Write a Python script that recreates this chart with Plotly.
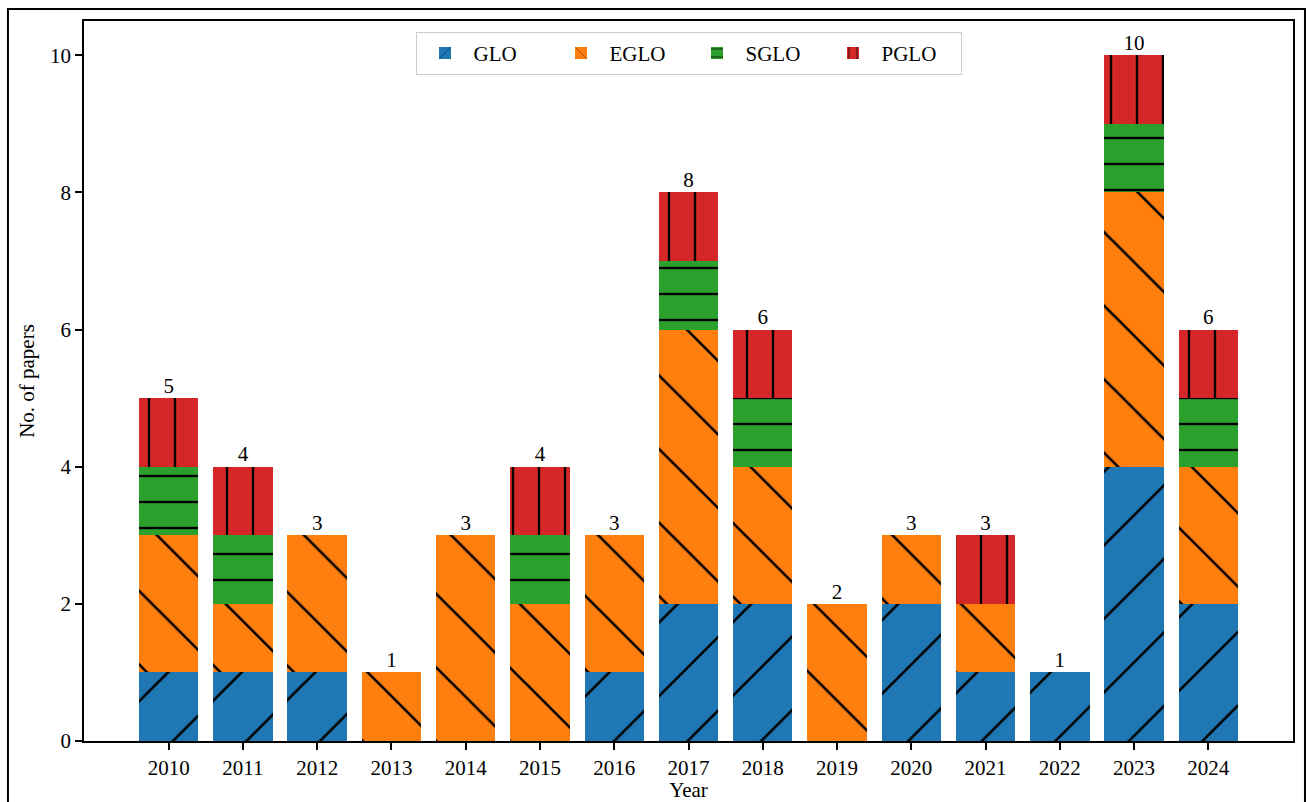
import plotly.graph_objects as go

years = ["2010", "2011", "2012", "2013", "2014", "2015", "2016", "2017",
         "2018", "2019", "2020", "2021", "2022", "2023", "2024"]
glo = [1, 1, 1, 0, 0, 0, 1, 2, 2, 0, 2, 1, 1, 4, 2]
eglo = [2, 1, 2, 1, 3, 2, 2, 4, 2, 2, 1, 1, 0, 4, 2]
sglo = [1, 1, 0, 0, 0, 1, 0, 1, 1, 0, 0, 0, 0, 1, 1]
pglo = [1, 1, 0, 0, 0, 1, 0, 1, 1, 0, 0, 1, 0, 1, 1]

series = [
    ("GLO", glo, "#1f77b4", "/", 52, 0.05),
    ("EGLO", eglo, "#ff7f0e", "\\", 52, 0.05),
    ("SGLO", sglo, "#2ca02c", "-", 26, 0.09),
    ("PGLO", pglo, "#d62728", "|", 26, 0.09),
]

FONT = "Liberation Serif"
fig = go.Figure()
for name, vals, col, shp, sz, sol in series:
    fig.add_trace(go.Bar(
        x=years, y=vals, name=name,
        marker=dict(color=col, line=dict(width=0),
                    pattern=dict(shape=shp, size=sz, solidity=sol,
                                 fgcolor="black", bgcolor=col, fillmode="replace")),
        width=0.8,
    ))

totals = [a + b + c + d for a, b, c, d in zip(glo, eglo, sglo, pglo)]
fig.add_trace(go.Scatter(
    x=years, y=totals, mode="text", text=[str(t) for t in totals],
    textposition="top center", textfont=dict(family=FONT, size=21, color="black"),
    showlegend=False, hoverinfo="skip", cliponaxis=False,
))

fig.update_layout(
    width=1307, height=802,
    barmode="stack", bargap=0.2,
    plot_bgcolor="white", paper_bgcolor="white",
    margin=dict(l=84, r=14, t=21, b=61, autoexpand=False),
    font=dict(family=FONT, size=21, color="black"),
    legend=dict(orientation="h", x=0.5, xanchor="center", y=0.985, yanchor="top",
                traceorder="normal", itemwidth=47,
                bordercolor="#cccccc", borderwidth=1, bgcolor="white",
                font=dict(family=FONT, size=21), entrywidth=74, entrywidthmode="pixels"),
    xaxis=dict(range=[-1.14, 15.14], showline=True, linecolor="black", linewidth=1.5,
               mirror=True, ticks="outside", ticklen=7, tickwidth=1.5, tickcolor="black",
               showgrid=False, zeroline=False, tickfont=dict(size=21), automargin=False,
               title=dict(text="Year", font=dict(size=21), standoff=9)),
    yaxis=dict(range=[0, 10.5], showline=True, linecolor="black", linewidth=1.5,
               mirror=True, ticks="outside", ticklen=7, tickwidth=1.5, tickcolor="black",
               showgrid=False, zeroline=False, tickvals=[0, 2, 4, 6, 8, 10],
               tickfont=dict(size=21), automargin=False,
               title=dict(text="No. of papers", font=dict(size=21), standoff=10)),
    shapes=[dict(type="rect", xref="paper", yref="paper",
                 x0=-0.0629, x1=1.0099, y0=-0.11, y1=1.0167,
                 line=dict(color="black", width=2), fillcolor="rgba(0,0,0,0)", layer="above")],
)

fig.write_html("out.html", config={"displayModeBar": False},
               post_script="document.body.style.margin='0';document.body.style.overflow='hidden';")
